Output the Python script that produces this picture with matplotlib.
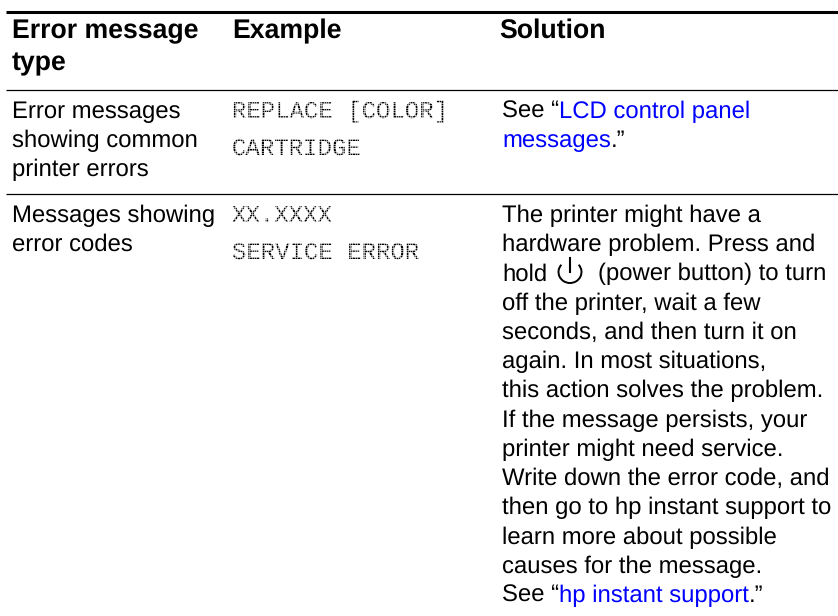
import matplotlib
matplotlib.use("Agg")
import matplotlib.pyplot as plt
from matplotlib.patches import Arc

plt.rcParams['font.family'] = ['Liberation Sans', 'DejaVu Sans']
plt.rcParams['text.hinting'] = 'none'

# table text
headers = ["Error message\ntype", "Example", "Solution"]
type_1 = ["Error messages", "showing common", "printer errors"]
type_2 = ["Messages showing", "error codes"]
example_1 = ["REPLACE [COLOR]", "CARTRIDGE"]
example_2 = ["XX.XXXX", "SERVICE ERROR"]
solution_2 = [
    "The printer might have a",
    "hardware problem. Press and",
    None,
    "off the printer, wait a few",
    "seconds, and then turn it on",
    "again. In most situations,",
    "this action solves the problem.",
    "If the message persists, your",
    "printer might need service.",
    "Write down the error code, and",
    "then go to hp instant support to",
    "learn more about possible",
    "causes for the message.",
    None,
]

BLUE = "#0000ff"
FS = 17.2
LINE = 29.23

fig = plt.figure(figsize=(8.38, 6.16), dpi=100)
ax = fig.add_axes([0, 0, 1, 1])
ax.set_xlim(0, 838)
ax.set_ylim(616, 0)
ax.axis("off")

ax.plot([6, 838], [11.5, 11.5], color="black", lw=2.2, solid_capstyle="butt")
ax.plot([6, 838], [90, 90], color="black", lw=0.9, solid_capstyle="butt")
ax.plot([6, 838], [194, 194], color="black", lw=0.9, solid_capstyle="butt")


def body(x, y, s, color="black"):
    return ax.text(x, y, s, fontsize=FS, color=color, va="baseline", ha="left")


def run(x, y, parts):
    # parts sit one after the other on a line, measured with the renderer
    rend = fig.canvas.get_renderer()
    for s, color in parts:
        t = body(x, y, s.replace(" ", "\u00a0"), color)
        x += t.get_window_extent(rend).width


def lcd(x, y, s):
    ax.text(x, y, s, fontsize=17.3, family="Liberation Mono",
            color="black", va="baseline", ha="left")


for x, y, s in zip([12, 232, 499], [38, 38, 38], headers):
    for i, part in enumerate(s.split("\n")):
        ax.text(x, y + i * 32, part, fontsize=19.2, fontweight="bold", va="baseline")

for i, s in enumerate(type_1):
    body(12, 118 + i * LINE, s)
for i, s in enumerate(type_2):
    body(12, 222 + i * LINE, s)
for i, s in enumerate(example_1):
    lcd(232, 118 + i * 37, s)
for i, s in enumerate(example_2):
    lcd(232, 222 + i * 37, s)

# white grid over the LCD text breaks it into dots
for y0, y1 in [(98, 160), (202, 264)]:
    xs = [230 + k * 2.4 for k in range(95)]
    ax.vlines(xs, y0, y1, color="white", lw=0.4, zorder=5)
    ys = [y0 + k * 2.4 for k in range(int((y1 - y0) / 2.4) + 1)]
    ax.hlines(ys, 228, 460, color="white", lw=0.4, zorder=5)

run(502, 118, [("See “", "black"), ("LCD control panel", BLUE)])
run(502, 147, [("messages", BLUE), (".”", "black")])

for i, s in enumerate(solution_2):
    if s is not None:
        body(502, 222 + i * LINE, s)

body(502, 222 + 2 * LINE, "hold")
body(598, 222 + 2 * LINE, "(power button) to turn")
ax.add_patch(Arc((570, 272), 23, 22, theta1=-40, theta2=220, color="black", lw=1.4))
ax.plot([570, 570], [258, 272], color="black", lw=1.5)

run(502, 222 + 13 * LINE, [("See “", "black"), ("hp instant support", BLUE), (".”", "black")])

fig.savefig("out.png", dpi=100)
